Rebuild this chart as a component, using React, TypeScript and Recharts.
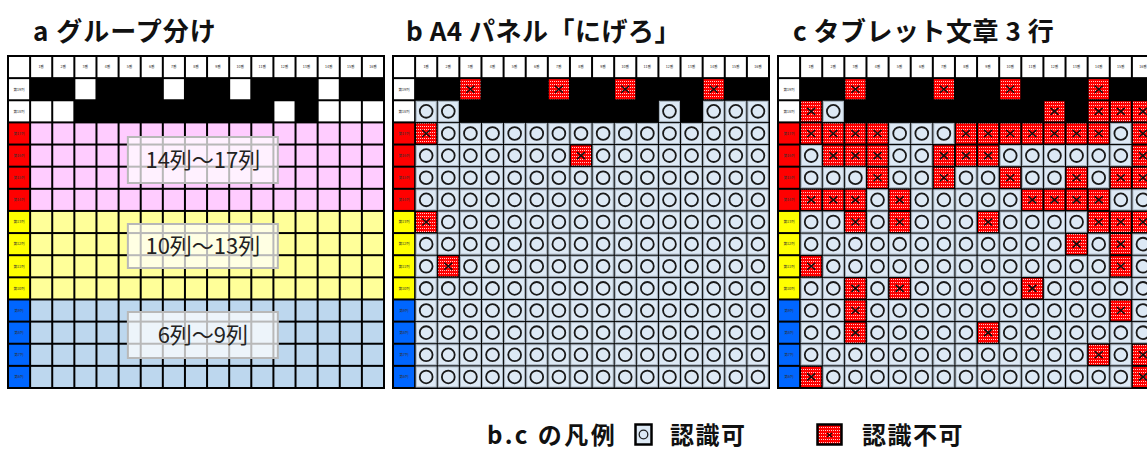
import { ReferenceArea, Scatter, ScatterChart, XAxis, YAxis } from "recharts";

// 列ヘッダ(座席番号)と行ラベル
const colLabels = ["1番", "2番", "3番", "4番", "5番", "6番", "7番", "8番", "9番", "10番", "11番", "12番", "13番", "14番", "15番", "16番"];
const rowLabels = ["第19列", "第18列", "第17列", "第16列", "第15列", "第14列", "第13列", "第12列", "第11列", "第10列", "第9列", "第8列", "第7列", "第6列"];
const rowGroups = ["top", "top", "red", "red", "red", "red", "yellow", "yellow", "yellow", "yellow", "blue", "blue", "blue", "blue"];
const groupNames = ["14列～17列", "10列～13列", "6列～9列"];

// a: 座席の有無 ("#" = 座席なし, "." = 座席)
const seatLayout = [
  "##.###.##.###.##",
  "..#########.#...",
  "................",
  "................",
  "................",
  "................",
  "................",
  "................",
  "................",
  "................",
  "................",
  "................",
  "................",
  "................",
];

// b: A4 パネル「にげろ」 ("B" = 座席なし, "o" = 認識可, "x" = 認識不可)
const panelResults = [
  "BBxBBBxBBxBBBxBB",
  "ooBBBBBBBBBoBooo",
  "xooooooooooooooo",
  "oooooooxoooooooo",
  "oooooooooooooooo",
  "oooooooooooooooo",
  "xooooooooooooooo",
  "oooooooooooooooo",
  "oxoooooooooooooo",
  "oooooooooooooooo",
  "oooooooooooooooo",
  "oooooooooooooooo",
  "oooooooooooooooo",
  "oooooooooooooooo",
];

// c: タブレット文章 3 行
const tabletResults = [
  "BBxBBBxBBxBBBxBB",
  "xoBBBBBBBBBxBxxx",
  "xxxxoooxxxxxxxox",
  "oxxxooxxxoooooox",
  "oooxooxooxooxoxx",
  "xxxoxoooooxxxxoo",
  "ooxoxoooxooooxxx",
  "ooooooooooooxoxo",
  "xoooooooooooooxo",
  "ooxoxoooooxooooo",
  "ooxoooooooooooxo",
  "ooxoooooxooooooo",
  "oooooooooooooxox",
  "xoooooooooooooox",
];

const FONT = '"Noto Sans CJK JP", "Noto Sans", sans-serif';
const CHART_W = 376;
const CHART_H = 332;
const CW = CHART_W / 17;
const CH = CHART_H / 15;

const labelColors: Record<string, string> = { top: "#ffffff", red: "#ff0000", yellow: "#ffff00", blue: "#0066ff" };
const areaColors: Record<string, string> = { top: "#ffffff", red: "#ffccff", yellow: "#ffff99", blue: "#bdd7ee" };

type CellPoint = { x: number; y: number; kind: string; fill?: string; text?: string };

function buildCells(rows: string[], grouped: boolean): CellPoint[] {
  const cells: CellPoint[] = [{ x: 0.5, y: 0.5, kind: "head" }];
  colLabels.forEach((t, c) => cells.push({ x: c + 1.5, y: 0.5, kind: "head", text: t }));
  rows.forEach((row, r) => {
    const g = rowGroups[r];
    cells.push({ x: 0.5, y: r + 1.5, kind: "label", fill: labelColors[g], text: rowLabels[r] });
    row.split("").forEach((ch, c) => {
      let kind = "fill";
      if (ch === "#" || ch === "B") kind = "black";
      else if (ch === "o") kind = "ok";
      else if (ch === "x") kind = "ng";
      cells.push({ x: c + 1.5, y: r + 1.5, kind, fill: grouped ? areaColors[g] : "#fff" });
    });
  });
  return cells;
}

function CellShape(props: any) {
  const { cx, cy, payload } = props;
  const w = CW - 2;
  const h = CH - 2;
  const x = cx - w / 2;
  const y = cy - h / 2;
  switch (payload.kind) {
    case "black":
      return <rect x={cx - CW / 2} y={cy - CH / 2} width={CW} height={CH} fill="#000" />;
    case "ok":
      return (
        <g>
          <rect x={x} y={y} width={w} height={h} fill="#dde9f5" stroke="#aab6c2" strokeWidth={1} />
          <circle cx={cx} cy={cy} r={6.4} fill="none" stroke="#1a1a1a" strokeWidth={1.8} />
        </g>
      );
    case "ng":
      return (
        <g>
          <rect x={x} y={y} width={w} height={h} fill="url(#ngDots)" />
          <path
            d={`M${cx - 4},${cy - 3.5}L${cx + 4},${cy + 3.5}M${cx + 4},${cy - 3.5}L${cx - 4},${cy + 3.5}`}
            stroke="#111"
            strokeWidth={1.5}
          />
        </g>
      );
    case "head":
    case "label":
      return (
        <g>
          <rect x={x} y={y} width={w} height={h} fill={payload.fill || "#fff"} />
          {payload.text && (
            <text x={cx} y={cy + 1.3} fontSize={3.6} textAnchor="middle" fill="#333" fontFamily={FONT}>
              {payload.text}
            </text>
          )}
        </g>
      );
    default:
      return <rect x={x} y={y} width={w} height={h} fill={payload.fill} />;
  }
}

// 注記ボックスの位置 (a パネル, データ座標)
const boxX: [number, number] = [5.42, 12.2];
const boxY: [number, number][] = [
  [3.66, 5.74],
  [7.59, 9.58],
  [11.57, 13.65],
];

function Grid({ rows, grouped, left }: { rows: string[]; grouped: boolean; left: number }) {
  const cells = buildCells(rows, grouped);
  return (
    <div style={{ position: "absolute", left, top: 55, width: CHART_W, height: CHART_H, border: "1px solid #000", background: "#000" }}>
      <ScatterChart width={CHART_W} height={CHART_H} margin={{ top: 0, right: 0, bottom: 0, left: 0 }}>
        <XAxis type="number" dataKey="x" domain={[0, 17]} hide />
        <YAxis type="number" dataKey="y" domain={[0, 15]} reversed hide />
        <Scatter data={cells} shape={CellShape} isAnimationActive={false} />
        {grouped &&
          groupNames.map((name, i) => (
            <ReferenceArea
              key={name}
              x1={boxX[0]}
              x2={boxX[1]}
              y1={boxY[i][0]}
              y2={boxY[i][1]}
              fill="#ffffff"
              fillOpacity={0.72}
              stroke="#b8b8b8"
              strokeWidth={2}
              zIndex={700}
              label={{ value: name, position: "center", fontSize: 22, fill: "#222", fontFamily: FONT }}
            />
          ))}
      </ScatterChart>
    </div>
  );
}

const titleStyle: React.CSSProperties = {
  position: "absolute",
  top: 15,
  fontSize: 26,
  fontWeight: 700,
  lineHeight: "30px",
  fontFamily: FONT,
  letterSpacing: 0.5,
  color: "#111",
  whiteSpace: "nowrap",
};

const legendStyle: React.CSSProperties = {
  ...titleStyle,
  top: 421,
  fontSize: 24,
  lineHeight: "26px",
  letterSpacing: 1.5,
};

export default function App() {
  return (
    <div style={{ position: "absolute", left: 0, top: 0, width: 1147, height: 451, overflow: "hidden", background: "#fff" }}>
      <svg width={0} height={0} style={{ position: "absolute" }}>
        <defs>
          <pattern id="ngDots" width={2} height={3} patternUnits="userSpaceOnUse">
            <rect width={2} height={3} fill="#ff0000" />
            <rect x={1} y={1} width={1} height={1} fill="#ffffff" fillOpacity={0.8} />
          </pattern>
        </defs>
      </svg>
      <div style={{ ...titleStyle, left: 33, letterSpacing: 1 }}>a グループ分け</div>
      <div style={{ ...titleStyle, left: 406 }}>b A4 パネル「にげろ」</div>
      <div style={{ ...titleStyle, left: 793 }}>c タブレット文章 3 行</div>
      <Grid rows={seatLayout} grouped left={7} />
      <Grid rows={panelResults} grouped={false} left={392} />
      <Grid rows={tabletResults} grouped={false} left={777} />
      <div style={{ ...legendStyle, left: 487, letterSpacing: 2.5 }}>b.c の凡例</div>
      <svg width={20} height={24} style={{ position: "absolute", left: 634, top: 423 }}>
        <rect x={1.5} y={1.5} width={16} height={20} fill="#dde9f5" stroke="#000" strokeWidth={2.5} />
        <circle cx={9.5} cy={11.5} r={4.3} fill="none" stroke="#222" strokeWidth={1.3} />
      </svg>
      <div style={{ ...legendStyle, left: 670 }}>認識可</div>
      <svg width={28} height={24} style={{ position: "absolute", left: 816, top: 423 }}>
        <rect x={1.5} y={1.5} width={24} height={20} fill="url(#ngDots)" stroke="#000" strokeWidth={2.5} />
        <path d="M11,10L16,14M16,10L11,14" stroke="#111" strokeWidth={1.1} />
      </svg>
      <div style={{ ...legendStyle, left: 862 }}>認識不可</div>
    </div>
  );
}
